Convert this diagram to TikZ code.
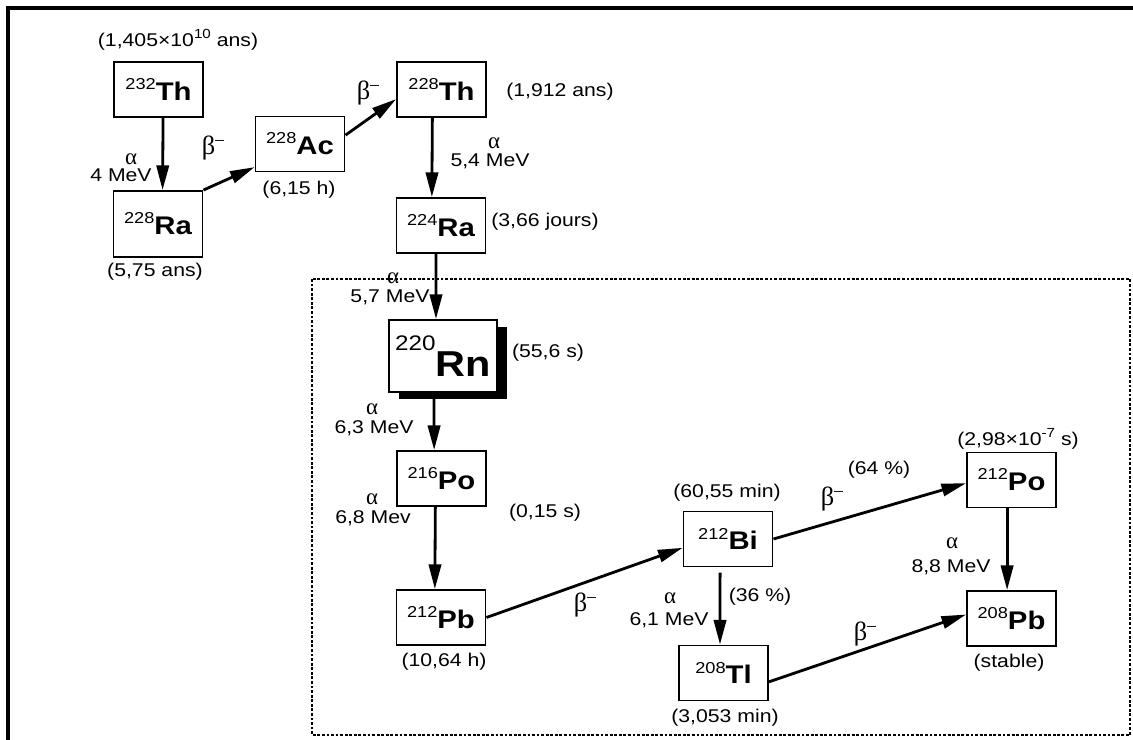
\documentclass[tikz,border=0pt]{standalone}
\usepackage{fontspec}
\setmainfont{Liberation Sans}[FakeStretch=1.15]
\newfontfamily\greekfont{Liberation Serif}
\usepackage{tikz}
\usetikzlibrary{arrows.meta}
\usetikzlibrary{shadows}

\newcommand{\nucl}[2]{\raisebox{6.2pt}{\fontsize{9}{9}\selectfont #1}{\fontsize{14.5}{15}\selectfont\bfseries #2}}
\newcommand{\bignucl}[2]{\raisebox{14.5pt}{\fontsize{12}{12}\selectfont #1}{\fontsize{20.5}{21}\selectfont\bfseries #2}}
\newcommand{\expo}[1]{\raisebox{4.5pt}{\fontsize{7.5}{8}\selectfont #1}}
\newcommand{\alfa}{{\greekfont\fontsize{13}{13}\selectfont α}}
\newcommand{\betam}{{\greekfont\fontsize{15}{15}\selectfont β}\raisebox{5.6pt}{\fontsize{8}{8}\selectfont –}}

\tikzset{
  nucbox/.style={draw, line width=1.1pt, fill=white, minimum width=1.78cm, minimum height=1.1cm, inner sep=0pt},
  decay/.style={-{Triangle[length=14pt,width=7pt]}, line width=1.6pt},
  hl/.style={font=\fontsize{10.5}{12}\selectfont, inner sep=0pt},
  ray/.style={inner sep=0pt},
}

\begin{document}
\begin{tikzpicture}[x=0.02cm, y=-0.02cm]
    \useasboundingbox (0,0) rectangle (1133,740);

    % frame
    \draw[line width=1.9pt] (8,740) -- (8,8) -- (1133,8);
    \draw[dash pattern=on 1.6pt off 1pt, line width=0.7pt] (312,279) rectangle (1130,735);

    % nuclei
    \node[nucbox] (Th232) at (158.5,89.5) {\nucl{232}{Th}};
    \node[nucbox, minimum height=1.32cm] (Ra228) at (158,224) {\nucl{228}{Ra}};
    \node[nucbox] (Ac228) at (300,144) {\nucl{228}{Ac}};
    \node[nucbox] (Th228) at (441.5,89.5) {\nucl{228}{Th}};
    \node[nucbox] (Ra224) at (441,225.5) {\nucl{224}{Ra}};
    \node[nucbox, minimum width=2.16cm, minimum height=1.44cm,
          drop shadow={shadow xshift=5.7pt, shadow yshift=-4pt, opacity=1, fill=black}]
          (Rn220) at (443,356) {\bignucl{220}{Rn}};
    \node[nucbox] (Po216) at (441.5,478.5) {\nucl{216}{Po}};
    \node[nucbox] (Pb212) at (441,617.5) {\nucl{212}{Pb}};
    \node[nucbox] (Bi212) at (728,539) {\nucl{212}{Bi}};
    \node[nucbox] (Tl208) at (723.5,673) {\nucl{208}{Tl}};
    \node[nucbox] (Po212) at (1011.5,480) {\nucl{212}{Po}};
    \node[nucbox] (Pb208) at (1011.5,618.5) {\nucl{208}{Pb}};

    % half-lives
    \node[hl] (Th232t) at (178,40) {(1,405×10\expo{10} ans)};
    \node[hl] (Ra228t) at (155,272) {(5,75 ans)};
    \node[hl] (Ac228t) at (299,190) {(6,15 h)};
    \node[hl] (Th228t) at (560,92) {(1,912 ans)};
    \node[hl] (Ra224t) at (545,222) {(3,66 jours)};
    \node[hl] (Rn220t) at (548,353) {(55,6 s)};
    \node[hl] (Po216t) at (545,513) {(0,15 s)};
    \node[hl] (Pb212t) at (444,662) {(10,64 h)};
    \node[hl] (Bi212t) at (727,493) {(60,55 min)};
    \node[hl] (Tl208t) at (725,718) {(3,053 min)};
    \node[hl] (Po212t) at (1018,439) {(2,98×10\expo{-7} s)};
    \node[hl] (Pb208t) at (1009,663) {(stable)};
    \node[hl] (pctPo) at (879,470) {(64 \%)};
    \node[hl] (pctTl) at (760,597) {(36 \%)};

    % alpha labels
    \node[ray] (aTh232) at (131,159) {\alfa};
    \node[hl] (eTh232) at (121,175) {4 MeV};
    \node[ray] (aTh228) at (494,143) {\alfa};
    \node[hl] (eTh228) at (490,161) {5,4 MeV};
    \node[ray] (aRa224) at (393,278) {\alfa};
    \node[hl] (eRa224) at (390,297) {5,7 MeV};
    \node[ray] (aRn220) at (372,409) {\alfa};
    \node[hl] (eRn220) at (374,428) {6,3 MeV};
    \node[ray] (aPo216) at (372,499) {\alfa};
    \node[hl] (ePo216) at (373,518) {6,8 Mev};
    \node[ray] (aBi212) at (670,598) {\alfa};
    \node[hl] (eBi212) at (669,620) {6,1 MeV};
    \node[ray] (aPo212) at (952,543) {\alfa};
    \node[hl] (ePo212) at (951,567) {8,8 MeV};

    % beta labels
    \node[ray] (bRa228) at (213,148) {\betam};
    \node[ray] (bAc228) at (368,93) {\betam};
    \node[ray] (bPb212) at (585,605) {\betam};
    \node[ray] (bBi212) at (832,499) {\betam};
    \node[ray] (bTl208) at (865,634) {\betam};

    % decays
    \draw[decay] ([xshift=2.6pt]Th232.south) -- ([xshift=2.6pt]Ra228.north);
    \draw[decay] (Ra228.north east) -- (Ac228.207);
    \draw[decay] (Ac228.11) -- (Th228.192);
    \draw[decay] ([xshift=-5.2pt]Th228.south) -- ([xshift=-5.2pt]Ra224.north);
    \draw[decay] ([xshift=-2.8pt]Ra224.south) -- ([xshift=-4pt]Rn220.north);
    \draw[decay] ([xshift=-5.1pt]Rn220.south) -- ([xshift=-4.2pt]Po216.north);
    \draw[decay] ([xshift=-3.5pt]Po216.south) -- ([xshift=-3.5pt]Pb212.north);
    \draw[decay] (Pb212.east) -- (Bi212.191);
    \draw[decay] (Bi212.east) -- (Po212.184);
    \draw[decay] ([xshift=-4.5pt,yshift=-3pt]Bi212.south) -- ([xshift=-2pt]Tl208.north);
    \draw[decay] ([xshift=-2.5pt]Po212.south) -- ([xshift=-2.5pt]Pb208.north);
    \draw[decay] (Tl208.-11) -- (Pb208.175);
\end{tikzpicture}
\end{document}
